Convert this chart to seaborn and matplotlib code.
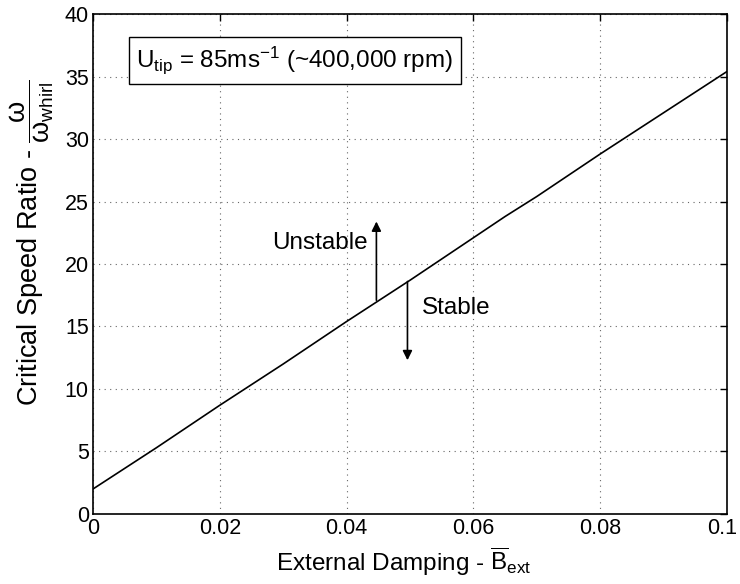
import matplotlib
matplotlib.use("Agg")
import matplotlib.pyplot as plt
import matplotlib.transforms as mtransforms
import seaborn as sns
import pandas as pd

damping = [0.0, 0.01, 0.02, 0.03, 0.04, 0.05, 0.06, 0.065, 0.07, 0.08, 0.09, 0.1]
ratio = [2.0, 5.3, 8.7, 12.0, 15.4, 18.7, 22.1, 23.8, 25.4, 28.8, 32.1, 35.4]
x_ticks = [0, 0.02, 0.04, 0.06, 0.08, 0.1]
x_tick_labels = ["0", "0.02", "0.04", "0.06", "0.08", "0.1"]
y_ticks = [0, 5, 10, 15, 20, 25, 30, 35, 40]

sns.set_theme(style="white")
plt.rcParams['font.family'] = ['Liberation Sans', 'DejaVu Sans']
plt.rcParams['mathtext.fontset'] = 'custom'
plt.rcParams['mathtext.rm'] = 'Liberation Sans'
plt.rcParams['mathtext.it'] = 'Liberation Sans'

FS = 17.5
TICK_FS = 15.5

fig = plt.figure(figsize=(7.4, 5.84), dpi=100)
ax = fig.add_axes([0.1257, 0.1199, 0.8567, 0.8561])

df = pd.DataFrame({"x": damping, "y": ratio})
sns.lineplot(data=df, x="x", y="y", ax=ax, color="black", linewidth=1.2)

ax.set_xlim(0, 0.1)
ax.set_ylim(0, 40)
ax.set_xticks(x_ticks)
ax.set_xticklabels(x_tick_labels)
ax.set_yticks(y_ticks)
ax.tick_params(direction="in", length=5, width=1, colors="black", labelsize=TICK_FS,
               top=True, right=True, pad=3)
for s in ax.spines.values():
    s.set_color("black")
    s.set_linewidth(1.2)
ax.grid(True, linestyle=(0, (1, 4)), color="#666666", linewidth=0.8)

# keep the last x tick label inside the figure
last = ax.get_xticklabels()[-1]
last.set_transform(last.get_transform() + mtransforms.ScaledTranslation(-5 / 100, 0, fig.dpi_scale_trans))

ax.set_xlabel(r"External Damping - $\overline{\mathrm{B}}_{\mathrm{ext}}$", fontsize=FS, color="black")
ax.set_ylabel(r"Critical Speed Ratio - $\dfrac{\omega}{\omega_{\mathrm{whirl}}}$", fontsize=19.5, color="black")
ax.xaxis.set_label_coords(0.49, -0.064)
ax.yaxis.set_label_coords(-0.058, 0.542)

# arrows
ax.annotate("", xy=(0.0447, 23.4), xytext=(0.0447, 17.1),
            arrowprops=dict(arrowstyle="-|>", color="black", lw=1.2, mutation_scale=14, shrinkA=0, shrinkB=0))
ax.annotate("", xy=(0.0496, 12.3), xytext=(0.0496, 18.6),
            arrowprops=dict(arrowstyle="-|>", color="black", lw=1.2, mutation_scale=14, shrinkA=0, shrinkB=0))
ax.text(0.0433, 21.7, "Unstable", ha="right", va="center", fontsize=FS, color="black")
ax.text(0.0518, 16.5, "Stable", ha="left", va="center", fontsize=FS, color="black")

ax.text(0.068, 0.907, r"U$_{\mathrm{tip}}$ = 85ms$^{\mathrm{-1}}$ (~400,000 rpm)", transform=ax.transAxes,
        ha="left", va="center", fontsize=FS, color="black",
        bbox=dict(boxstyle="square,pad=0.3", facecolor="white", edgecolor="black", linewidth=1.0))

fig.savefig("out.png", dpi=100)
